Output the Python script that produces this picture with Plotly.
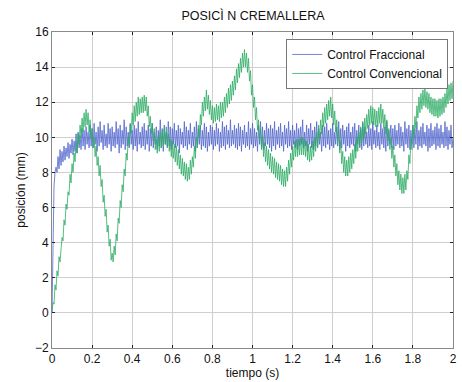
import plotly.graph_objects as go

# Control Fraccional (blue), sampled every 0.005 s from 0 to 2 s
fraccional = [
    0.0, 4.5, 7.2, 8.0, 8.3, 8.0, 8.9, 8.2, 9.3, 8.4, 9.2, 8.6, 9.5, 8.7, 9.4, 8.9, 9.7, 8.8, 9.6, 9.1,
    9.9, 9.0, 9.8, 9.2, 10.2, 9.1, 10.3, 9.4, 10.1, 9.3, 10.5, 9.5, 10.4, 9.3, 10.6, 9.6, 10.3, 9.4, 10.7, 9.5,
    10.5, 9.4, 10.8, 9.6, 10.3, 9.2, 10.6, 9.5, 10.9, 9.7, 10.4, 9.3, 10.7, 9.5, 10.2, 9.4, 10.8, 9.6, 10.5, 9.2,
    10.6, 9.5, 10.3, 9.4, 10.9, 9.6, 10.5, 9.1, 10.7, 9.4, 10.4, 9.6, 11.0, 9.3, 10.6, 9.5, 10.3, 9.4, 10.8, 9.6,
    10.4, 9.3, 10.7, 9.5, 10.5, 9.2, 10.9, 9.6, 10.3, 9.4, 10.6, 9.5, 10.8, 9.3, 10.4, 9.6, 10.7, 9.2, 10.5, 9.5,
    10.8, 9.4, 10.3, 9.6, 10.6, 9.3, 10.4, 9.5, 11.0, 9.4, 10.5, 9.2, 10.7, 9.6, 10.3, 9.4, 10.9, 9.5, 10.6, 9.3,
    10.5, 9.6, 10.8, 9.4, 10.4, 9.5, 10.7, 9.1, 10.5, 9.6, 10.3, 9.4, 10.9, 9.5, 10.6, 9.3, 10.4, 9.6, 10.8, 9.4,
    10.3, 9.5, 10.6, 9.2, 10.9, 9.4, 10.5, 9.6, 10.7, 9.3, 10.4, 9.5, 10.8, 9.4, 10.6, 9.2, 10.3, 9.5, 10.7, 9.6,
    10.6, 9.3, 10.4, 9.5, 10.8, 9.6, 10.5, 9.2, 10.3, 9.4, 10.9, 9.5, 10.6, 9.3, 10.7, 9.6, 10.4, 9.4, 11.0, 9.5,
    10.4, 9.6, 10.7, 9.4, 10.5, 9.3, 10.8, 9.5, 10.6, 9.2, 10.4, 9.6, 10.7, 9.4, 10.3, 9.5, 10.9, 9.3, 10.5, 9.6,
    10.8, 9.4, 10.5, 9.5, 10.3, 9.2, 10.7, 9.6, 10.9, 9.4, 10.6, 9.3, 10.4, 9.5, 10.8, 9.6, 10.5, 9.4, 10.7, 9.2,
    10.5, 9.5, 10.9, 9.3, 10.4, 9.6, 10.6, 9.4, 10.8, 9.5, 10.3, 9.2, 10.7, 9.6, 10.5, 9.4, 10.9, 9.5, 10.4, 9.3,
    10.7, 9.6, 10.4, 9.4, 10.8, 9.3, 10.5, 9.5, 10.6, 9.6, 11.0, 9.4, 10.3, 9.5, 10.7, 9.2, 10.5, 9.6, 10.8, 9.4,
    10.4, 9.3, 10.6, 9.5, 10.9, 9.4, 10.5, 9.6, 10.3, 9.2, 10.7, 9.5, 10.6, 9.4, 10.8, 9.6, 10.4, 9.3, 10.5, 9.5,
    10.8, 9.4, 10.3, 9.6, 10.6, 9.5, 10.9, 9.3, 10.5, 9.4, 10.7, 9.6, 10.4, 9.2, 10.6, 9.5, 10.8, 9.4, 10.3, 9.6,
    10.6, 9.5, 10.8, 9.2, 10.4, 9.6, 10.7, 9.4, 10.5, 9.3, 10.9, 9.5, 10.6, 9.6, 10.3, 9.4, 10.7, 9.5, 10.5, 9.3,
    10.9, 9.6, 10.4, 9.4, 10.7, 9.5, 10.3, 9.3, 10.8, 9.6, 10.5, 9.4, 10.6, 9.2, 10.9, 9.5, 10.4, 9.6, 10.7, 9.4,
    10.5, 9.3, 10.7, 9.5, 10.4, 9.6, 10.8, 9.4, 10.6, 9.5, 10.3, 9.2, 10.9, 9.6, 10.5, 9.4, 10.7, 9.3, 10.4, 9.6,
    10.7, 9.4, 10.5, 9.6, 10.9, 9.3, 10.4, 9.5, 10.6, 9.4, 10.8, 9.6, 10.3, 9.5, 10.7, 9.2, 10.5, 9.4, 10.8, 9.5,
    10.4, 9.6, 10.6, 9.3, 10.8, 9.5, 10.5, 9.4, 10.7, 9.6, 10.3, 9.4, 10.9, 9.5, 10.6, 9.3, 10.4, 9.6, 10.7, 9.4,
    10.0,
]

# Control Convencional (green), sampled every 0.005 s from 0 to 2 s
convencional = [
    0.0, 0.6, 0.5, 1.6, 1.3, 2.4, 2.1, 3.2, 2.9, 3.9, 4.3, 4.1, 5.3, 5.0, 6.2, 5.9, 6.9, 6.7, 7.9, 7.4,
    8.5, 8.0, 9.1, 8.6, 9.7, 9.1, 10.2, 9.6, 10.7, 10.0, 11.1, 10.3, 11.4, 10.6, 11.6, 10.7, 11.4, 10.3, 11.0, 9.9,
    10.5, 9.4, 10.0, 8.9, 9.5, 8.4, 8.9, 7.8, 8.4, 7.2, 7.6, 6.3, 6.7, 5.5, 5.9, 4.6, 5.0, 3.8, 4.2, 3.0,
    3.4, 2.9, 3.8, 3.3, 4.5, 4.1, 5.4, 5.1, 6.4, 6.0, 7.3, 6.9, 8.2, 7.8, 9.1, 8.7, 10.0, 9.5, 10.7, 10.2,
    11.4, 10.7, 11.8, 10.9, 12.0, 11.2, 12.3, 11.3, 12.2, 11.4, 12.3, 11.4, 12.4, 11.5, 12.3, 11.2, 11.8, 10.6, 11.2, 10.2,
    10.8, 9.8, 10.5, 9.3, 9.9, 9.1, 10.1, 9.2, 10.3, 9.4, 10.4, 9.5, 10.5, 9.6, 10.6, 9.5, 10.2, 9.2, 9.9, 8.9,
    9.8, 8.8, 9.6, 8.6, 9.5, 8.4, 9.3, 8.2, 9.0, 7.9, 8.8, 7.8, 8.6, 7.6, 8.5, 7.5, 8.3, 7.6, 8.7, 7.9,
    8.9, 8.3, 9.5, 8.8, 10.0, 9.4, 10.7, 10.0, 11.3, 10.7, 12.0, 11.2, 12.3, 11.5, 12.7, 11.6, 12.4, 11.3, 12.1, 11.0,
    11.8, 10.8, 11.7, 10.9, 11.9, 11.0, 11.8, 10.9, 12.0, 11.1, 12.0, 11.2, 12.3, 11.4, 12.5, 11.7, 12.8, 11.9, 13.0, 12.1,
    13.2, 12.4, 13.5, 12.7, 13.9, 13.1, 14.2, 13.4, 14.5, 13.7, 14.8, 14.0, 15.0, 14.0, 14.8, 13.7, 14.5, 13.2, 13.8, 12.4,
    13.0, 11.7, 12.3, 11.0, 11.7, 10.4, 11.0, 9.8, 10.5, 9.3, 10.1, 8.9, 9.7, 8.6, 9.5, 8.4, 9.3, 8.2, 9.1, 8.0,
    8.9, 7.9, 8.8, 7.7, 8.6, 7.6, 8.5, 7.5, 8.4, 7.3, 8.2, 7.2, 8.1, 7.2, 8.3, 7.5, 8.7, 7.9, 9.1, 8.3,
    9.5, 8.7, 9.8, 8.9, 9.9, 8.9, 9.9, 9.0, 10.0, 9.0, 10.0, 9.0, 9.9, 8.9, 9.8, 8.7, 9.6, 8.6, 9.5, 8.7,
    9.8, 8.9, 10.0, 9.2, 10.3, 9.5, 10.7, 9.9, 11.0, 10.2, 11.4, 10.6, 11.7, 10.8, 11.9, 11.0, 12.1, 11.2, 12.3, 11.1,
    11.9, 10.7, 11.5, 10.3, 11.0, 9.7, 10.4, 9.1, 9.8, 8.5, 9.2, 8.0, 8.9, 7.8, 8.7, 7.8, 8.9, 8.0, 9.1, 8.2,
    9.3, 8.5, 9.6, 8.8, 10.0, 9.2, 10.3, 9.5, 10.6, 9.7, 10.8, 9.9, 11.1, 10.2, 11.3, 10.5, 11.6, 10.7, 11.8, 10.8,
    11.7, 10.7, 11.6, 10.6, 11.5, 10.6, 11.7, 10.8, 11.9, 10.8, 11.6, 10.5, 11.3, 10.2, 11.0, 9.8, 10.5, 9.3, 10.0, 8.8,
    9.5, 8.3, 9.0, 7.8, 8.5, 7.3, 8.1, 7.0, 7.9, 6.8, 7.7, 6.8, 7.9, 7.0, 8.1, 7.6, 9.0, 8.5, 9.9, 9.3,
    10.7, 10.0, 11.2, 10.5, 11.8, 11.1, 12.3, 11.4, 12.5, 11.6, 12.7, 11.8, 12.8, 11.7, 12.6, 11.6, 12.5, 11.4, 12.3, 11.3,
    12.2, 11.2, 12.2, 11.2, 12.1, 11.1, 12.2, 11.2, 12.2, 11.3, 12.3, 11.4, 12.5, 11.7, 12.8, 11.9, 13.0, 12.1, 13.1, 12.2,
    13.2,
]

# time samples (s)
t = [round(i * 0.005, 3) for i in range(len(convencional))]

x_ticks = [0, 0.2, 0.4, 0.6, 0.8, 1.0, 1.2, 1.4, 1.6, 1.8, 2.0]
x_ticklabels = ["0", "0.2", "0.4", "0.6", "0.8", "1", "1.2", "1.4", "1.6", "1.8", "2"]
y_ticks = [-2, 0, 2, 4, 6, 8, 10, 12, 14, 16]

FONT = "Liberation Sans, Arial, sans-serif"

fig = go.Figure()
fig.add_trace(go.Scatter(x=t, y=fraccional, mode="lines", name="Control Fraccional",
                         line=dict(color="rgb(80,100,205)", width=0.8)))
fig.add_trace(go.Scatter(x=t, y=convencional, mode="lines", name="Control Convencional",
                         line=dict(color="rgb(45,172,100)", width=0.8)))

axis_common = dict(
    showgrid=True, gridcolor="#cfcfcf", gridwidth=1,
    showline=True, linecolor="#8a8a8a", linewidth=1, mirror="ticks",
    ticks="inside", ticklen=3, tickcolor="#222", zeroline=False,
    tickfont=dict(family=FONT, size=12, color="#111"),
)

fig.update_layout(
    width=462, height=382,
    margin=dict(l=52, r=5, t=32, b=31),
    paper_bgcolor="white", plot_bgcolor="white",
    font=dict(family=FONT, size=12, color="#111"),
    title=dict(text="POSICÌ N CREMALLERA", xref="container", x=253 / 462, xanchor="center",
               yref="container", y=1 - 16 / 382, yanchor="middle",
               font=dict(family=FONT, size=12.5, color="#111")),
    xaxis=dict(range=[0, 2], tickvals=x_ticks, ticktext=x_ticklabels,
               title=dict(text="tiempo (s)", standoff=2, font=dict(family=FONT, size=12)),
               **axis_common),
    yaxis=dict(range=[-2, 16], tickvals=y_ticks,
               title=dict(text="posición (mm)", standoff=6, font=dict(family=FONT, size=12)),
               **axis_common),
    legend=dict(x=0.988, y=0.978, xanchor="right", yanchor="top",
                bgcolor="white", bordercolor="#777", borderwidth=1,
                font=dict(family=FONT, size=12, color="#111"),
                tracegroupgap=0, itemwidth=30),
    showlegend=True,
)

fig.write_html("out.html")
